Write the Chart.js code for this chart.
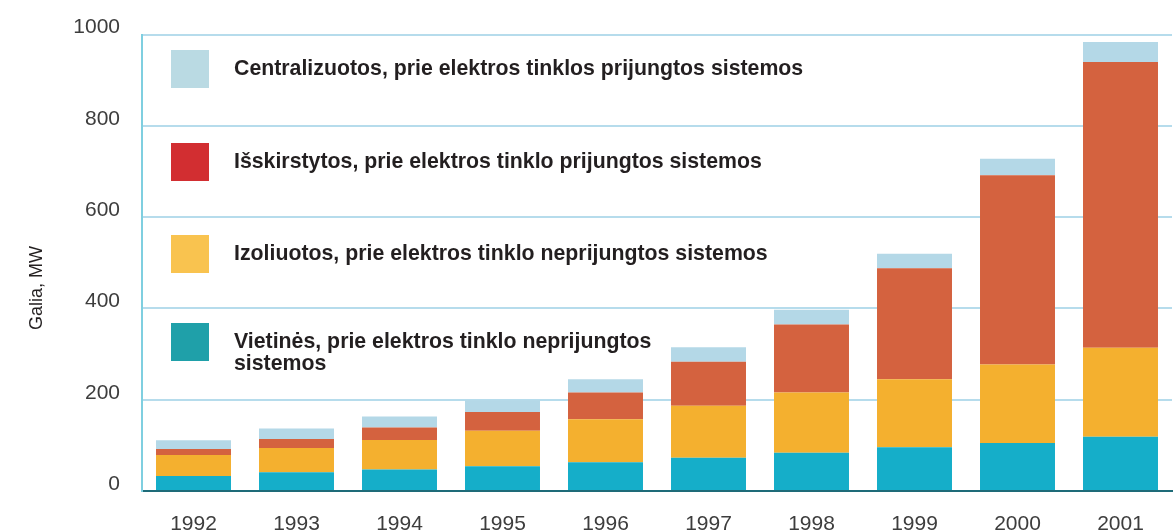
<!DOCTYPE html>
<html>
<head>
<meta charset="utf-8">
<script src="https://cdn.jsdelivr.net/npm/chart.js@4"></script>
<style>
  html, body { margin: 0; padding: 0; background: #fff; overflow: hidden; }
  #wrap { width: 1173px; height: 541px; }
</style>
</head>
<body>
<div id="wrap"><canvas id="galiaChart" width="1173" height="541"></canvas></div>
<script>
const years = ['1992', '1993', '1994', '1995', '1996', '1997', '1998', '1999', '2000', '2001'];
const vietines = [33, 41, 47, 54, 63, 73, 84, 96, 105, 119];
const izoliuotos = [46, 53, 65, 78, 94, 114, 132, 149, 172, 195];
const isskirstytos = [13, 20, 27, 41, 59, 96, 149, 243, 415, 626];
const centralizuotos = [19, 23, 24, 26, 29, 32, 32, 32, 36, 44];
const yTicks = [0, 200, 400, 600, 800, 1000];

const legendLabels = [
  ['Centralizuotos, prie elektros tinklos prijungtos sistemos'],
  ['Išskirstytos, prie elektros tinklo prijungtos sistemos'],
  ['Izoliuotos, prie elektros tinklo neprijungtos sistemos'],
  ['Vietinės, prie elektros tinklo neprijungtos', 'sistemos']
];
const legendColors = ['#badae3', '#d22e31', '#f9c34f', '#1fa0a9'];
const legendY = [69, 162, 254, 342];

// legend inside the plot + rotated axis title
const overlay = {
  id: 'overlay',
  afterDraw(chart) {
    const c = chart.ctx;
    c.save();
    c.font = 'bold 21.3px "Liberation Sans", Arial, sans-serif';
    c.textBaseline = 'middle';
    legendLabels.forEach((lines, i) => {
      c.fillStyle = legendColors[i];
      c.fillRect(171, legendY[i] - 19, 38, 38);
      c.fillStyle = '#231f20';
      lines.forEach((t, j) => c.fillText(t, 234, legendY[i] + j * 22));
    });
    c.translate(37, 288);
    c.rotate(-Math.PI / 2);
    c.textAlign = 'center';
    c.font = '18px "Liberation Sans", Arial, sans-serif';
    c.fillText('Galia, MW', 0, 0);
    c.restore();
  }
};

const ctx = document.getElementById('galiaChart').getContext('2d');
new Chart(ctx, {
  type: 'bar',
  data: {
    labels: years,
    datasets: [
      { label: 'Vietinės', data: vietines, backgroundColor: '#15aec9' },
      { label: 'Izoliuotos', data: izoliuotos, backgroundColor: '#f4b02f' },
      { label: 'Išskirstytos', data: isskirstytos, backgroundColor: '#d4623f' },
      { label: 'Centralizuotos', data: centralizuotos, backgroundColor: '#b4d8e7' }
    ]
  },
  options: {
    responsive: false,
    animation: false,
    layout: { padding: { top: 33, right: 1, left: 0, bottom: 0 } },
    datasets: { bar: { categoryPercentage: 1, barPercentage: 0.728, borderWidth: 0 } },
    plugins: { legend: { display: false }, tooltip: { enabled: false } },
    scales: {
      x: {
        stacked: true,
        grid: { display: false, drawTicks: false },
        border: { color: '#1e6b78', width: 2 },
        ticks: { padding: 21, color: '#3d3d3d', font: { family: '"Liberation Sans", Arial', size: 21 } },
        afterFit(s) { s.height = 50; }
      },
      y: {
        stacked: true,
        min: 0,
        max: 1000,
        afterBuildTicks(s) { s.ticks = yTicks.map(v => ({ value: v })); },
        grid: { color: '#b6dcec', lineWidth: 2, drawTicks: false },
        border: { color: '#7fcfe0', width: 2 },
        ticks: {
          padding: 22, labelOffset: -7, color: '#3d3d3d',
          font: { family: '"Liberation Sans", Arial', size: 21 },
          callback: v => String(v)
        },
        afterFit(s) { s.width = 142; }
      }
    }
  },
  plugins: [overlay]
});
</script>
</body>
</html>
